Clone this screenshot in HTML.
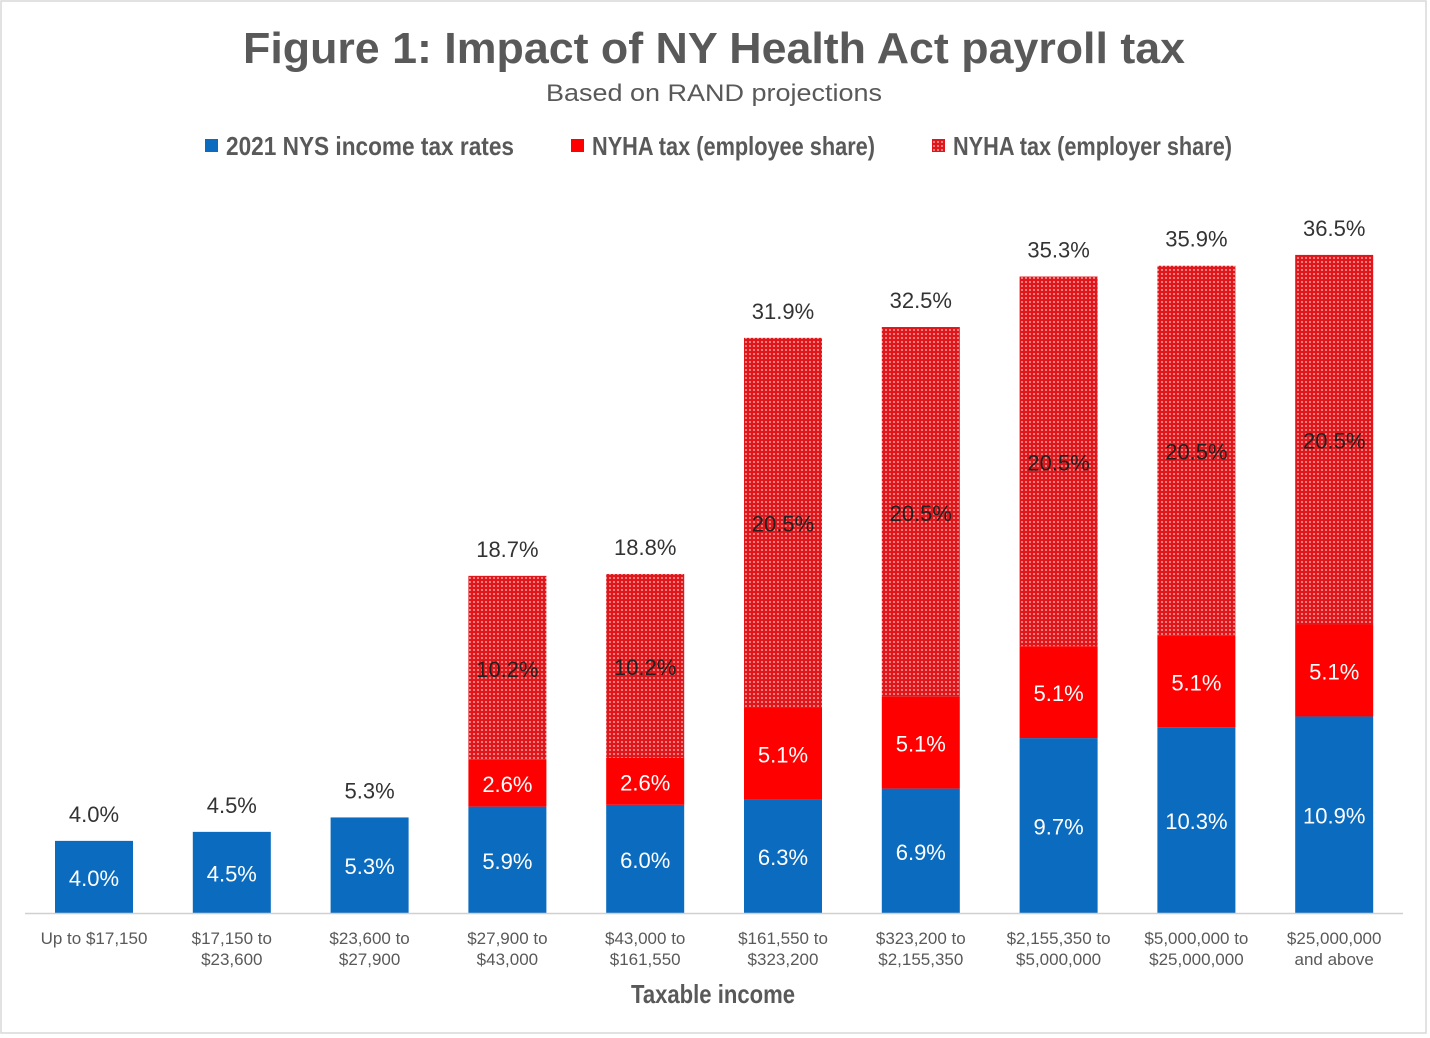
<!DOCTYPE html>
<html><head><meta charset="utf-8">
<style>
html,body{margin:0;padding:0;background:#fff;}
svg{display:block;font-family:"Liberation Sans",sans-serif;}
</style></head>
<body>
<svg id="chart" width="1430" height="1038" viewBox="0 0 1430 1038">
<defs>
<pattern id="dots" width="4" height="4" patternUnits="userSpaceOnUse">
<rect width="4" height="4" fill="#e0161b"/>
<circle cx="2" cy="2" r="0.9" fill="#f6c9c9"/>
</pattern>
</defs>
<rect x="1" y="1" width="1425" height="1032" fill="#fff" stroke="#d9d9d9" stroke-width="1.5"/>
<text x="714" y="63" text-anchor="middle" font-size="44" font-weight="bold" fill="#595959" textLength="942" lengthAdjust="spacingAndGlyphs">Figure 1: Impact of NY Health Act payroll tax</text>
<text x="714" y="101" text-anchor="middle" font-size="24" fill="#595959" textLength="336" lengthAdjust="spacingAndGlyphs">Based on RAND projections</text>
<g font-size="26" font-weight="bold" fill="#595959">
<rect x="205" y="139" width="13" height="13" fill="#0a6bbf"/>
<text x="226" y="155" textLength="288" lengthAdjust="spacingAndGlyphs">2021 NYS income tax rates</text>
<rect x="571" y="139" width="13" height="13" fill="#ff0000"/>
<text x="592" y="155" textLength="283" lengthAdjust="spacingAndGlyphs">NYHA tax (employee share)</text>
<rect x="932" y="139" width="13" height="13" fill="url(#dots)"/>
<text x="953" y="155" textLength="279" lengthAdjust="spacingAndGlyphs">NYHA tax (employer share)</text>
</g>
<g id="plot"></g>
<text x="631" y="1003" font-size="26" font-weight="bold" fill="#595959" textLength="164" lengthAdjust="spacingAndGlyphs">Taxable income</text>
</svg>
<script>
const categories = [["Up to $17,150",""],["$17,150 to","$23,600"],["$23,600 to","$27,900"],["$27,900 to","$43,000"],["$43,000 to","$161,550"],["$161,550 to","$323,200"],["$323,200 to","$2,155,350"],["$2,155,350 to","$5,000,000"],["$5,000,000 to","$25,000,000"],["$25,000,000","and above"]];
const incomeTax = [4.0,4.5,5.3,5.9,6.0,6.3,6.9,9.7,10.3,10.9];
const employeeShare = [0,0,0,2.6,2.6,5.1,5.1,5.1,5.1,5.1];
const employerShare = [0,0,0,10.2,10.2,20.5,20.5,20.5,20.5,20.5];

const NS="http://www.w3.org/2000/svg";
const plot=document.getElementById('plot');
const baseY=913, pxPer=18.03, x0=94, step=137.8, bw=78;
const y=v=>baseY-v*pxPer;
const xc=i=>x0+i*step;
function mk(tag,attrs,text){const e=document.createElementNS(NS,tag);for(const k in attrs)e.setAttribute(k,attrs[k]);if(text!==undefined)e.textContent=text;plot.appendChild(e);return e;}
const series=[{d:incomeTax,fill:"#0a6bbf",tc:"#fff",n:"income-tax"},{d:employeeShare,fill:"#ff0000",tc:"#fff",n:"employee-share"},{d:employerShare,fill:"url(#dots)",tc:"#222",n:"employer-share"}];
categories.forEach((c,i)=>{
  let acc=0;
  series.forEach(s=>{
    const v=s.d[i]; if(v<=0) return;
    const r=mk('rect',{x:xc(i)-bw/2,y:y(acc+v),width:bw,height:v*pxPer,fill:s.fill});
    
    
    const t=mk('text',{x:xc(i),y:y(acc+v/2)+9,'text-anchor':'middle','font-size':22,fill:s.tc},v.toFixed(1)+'%');
    
    
    acc+=v;
  });
  const tt=mk('text',{x:xc(i),y:y(acc)-19,'text-anchor':'middle','font-size':22,fill:'#333'},acc.toFixed(1)+'%');
  
  
  c.forEach((line,j)=>{ if(!line) return;
    const ct=mk('text',{x:xc(i),y:944+j*21,'text-anchor':'middle','font-size':17,fill:'#595959'},line);
    
    
  });
});
const ax=mk('line',{x1:25,x2:1403,y1:baseY+0.5,y2:baseY+0.5,stroke:'#d0d0d0','stroke-width':1.5});


</script>
</body></html>
